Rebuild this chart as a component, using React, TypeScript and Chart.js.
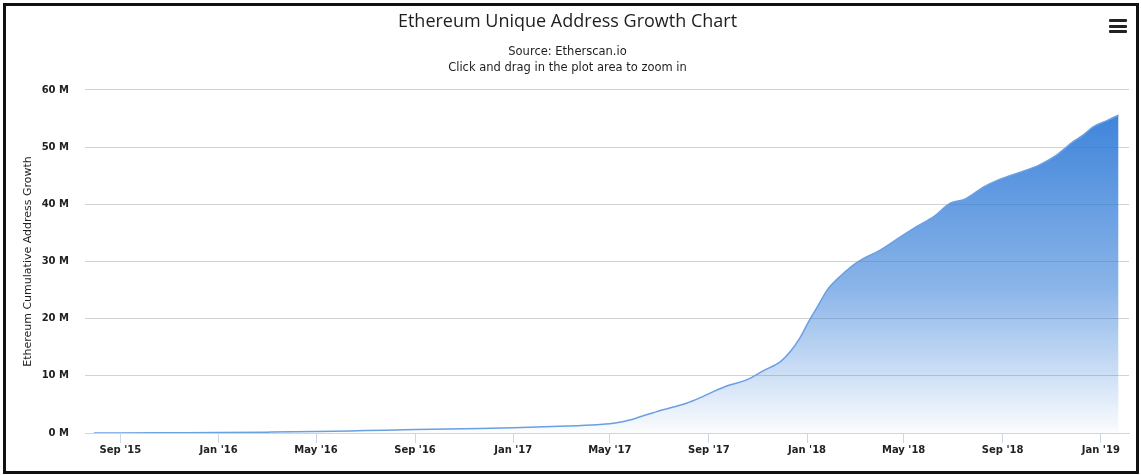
import React, { useEffect, useRef } from 'react';
import { Chart, registerables } from 'chart.js';

Chart.register(...registerables);

// ---- Data (values in millions of unique addresses) ----
const dates: string[] = [
  '2015-07-30', '2015-09-01', '2015-11-01', '2016-01-01', '2016-03-01', '2016-05-01',
  '2016-07-01', '2016-09-01', '2016-11-01', '2017-01-01', '2017-03-09', '2017-04-15',
  '2017-05-01', '2017-05-18', '2017-06-05', '2017-07-02', '2017-08-04', '2017-08-20',
  '2017-09-06', '2017-09-25', '2017-10-18', '2017-11-08', '2017-11-29', '2017-12-11',
  '2017-12-23', '2018-01-03', '2018-01-14', '2018-01-26', '2018-02-12', '2018-03-06',
  '2018-04-02', '2018-04-27', '2018-05-17', '2018-06-07', '2018-06-28', '2018-07-16',
  '2018-08-08', '2018-08-29', '2018-10-01', '2018-10-17', '2018-11-07', '2018-11-28',
  '2018-12-10', '2018-12-23', '2019-01-08', '2019-01-23',
];
const addressesM: number[] = [
  0.0, 0.02, 0.05, 0.08, 0.15, 0.25,
  0.42, 0.6, 0.75, 0.9, 1.22, 1.45,
  1.6, 2.0, 2.7, 3.9, 5.2, 6.1,
  7.2, 8.3, 9.3, 10.9, 12.5, 14.2,
  16.6, 19.5, 22.1, 25.0, 27.5, 30.0,
  32.0, 34.3, 36.1, 37.8, 40.2, 40.9,
  43.0, 44.4, 46.0, 46.9, 48.6, 51.0,
  52.1, 53.6, 54.6, 55.6,
];
const xTickDates: string[] = [
  '2015-09-01', '2016-01-01', '2016-05-01', '2016-09-01', '2017-01-01', '2017-05-01',
  '2017-09-01', '2018-01-01', '2018-05-01', '2018-09-01', '2019-01-01',
];
const monthNames: string[] = ['Jan', 'Feb', 'Mar', 'Apr', 'May', 'Jun', 'Jul', 'Aug', 'Sep', 'Oct', 'Nov', 'Dec'];
const xMinDate = '2015-07-19';
const xMaxDate = '2019-02-05';
const yTicksM: number[] = [0, 10, 20, 30, 40, 50, 60];

const titleText = 'Ethereum Unique Address Growth Chart';
const subtitleLines: string[] = ['Source: Etherscan.io', 'Click and drag in the plot area to zoom in'];
const yTitle = 'Ethereum Cumulative Address Growth';

function ts(s: string): number {
  const [y, m, d] = s.split('-').map(Number);
  return Date.UTC(y, m - 1, d);
}

export default function App() {
  const ref = useRef<HTMLCanvasElement | null>(null);

  useEffect(() => {
    if (!ref.current) return;
    const points = dates.map((d, i) => ({ x: ts(d), y: addressesM[i] }));
    const chart = new Chart(ref.current, {
      type: 'line',
      data: {
        datasets: [
          {
            label: 'Unique Addresses',
            data: points,
            borderColor: '#6a9fe2',
            borderWidth: 1.5,
            pointRadius: 0,
            pointHoverRadius: 0,
            cubicInterpolationMode: 'monotone',
            fill: 'origin',
            backgroundColor: (ctx: any) => {
              const ca = ctx.chart.chartArea;
              if (!ca) return 'rgba(44,120,215,0.5)';
              const g = ctx.chart.ctx.createLinearGradient(0, ca.top, 0, ca.bottom);
              g.addColorStop(0, 'rgba(44,120,215,0.96)');
              g.addColorStop(0.58, 'rgba(44,120,215,0.55)');
              g.addColorStop(1, 'rgba(44,120,215,0.02)');
              return g;
            },
          },
        ],
      },
      options: {
        animation: false,
        responsive: true,
        maintainAspectRatio: false,
        layout: { padding: { left: 0, right: 7, top: 0, bottom: 0 } },
        plugins: {
          legend: { display: false },
          tooltip: { enabled: false },
          title: {
            display: true,
            text: titleText,
            color: '#1e1e1e',
            font: { family: '"Open Sans", "DejaVu Sans", sans-serif', size: 18, weight: 'normal', lineHeight: 1.2 },
            padding: { top: 5, bottom: 0 },
          },
          subtitle: {
            display: true,
            text: subtitleLines,
            color: '#1e1e1e',
            font: { family: '"DejaVu Sans", sans-serif', size: 11.5, weight: 'normal', lineHeight: 1.39 },
            padding: { top: 11.4, bottom: 14 },
          },
        },
        scales: {
          x: {
            type: 'linear',
            min: ts(xMinDate),
            max: ts(xMaxDate),
            afterBuildTicks: (scale: any) => {
              scale.ticks = xTickDates.map((d) => ({ value: ts(d) }));
            },
            afterFit: (scale: any) => {
              scale.height = 38;
            },
            grid: {
              drawOnChartArea: false,
              drawTicks: true,
              tickLength: 10,
              color: '#ccd6eb',
            },
            border: { display: true, color: '#ccd6eb', width: 1 },
            ticks: {
              autoSkip: false,
              maxRotation: 0,
              padding: 1,
              color: '#222222',
              font: { family: '"DejaVu Sans", sans-serif', size: 10, weight: 'bold' },
              callback: (v: any) => {
                const dt = new Date(Number(v));
                return monthNames[dt.getUTCMonth()] + " '" + String(dt.getUTCFullYear()).slice(2);
              },
            },
          },
          y: {
            min: 0,
            max: 60,
            afterBuildTicks: (scale: any) => {
              scale.ticks = yTicksM.map((v) => ({ value: v }));
            },
            afterFit: (scale: any) => {
              scale.width = 79;
            },
            grid: { color: '#d3d3d3', drawTicks: false, lineWidth: 1 },
            border: { display: false },
            ticks: {
              padding: 16,
              color: '#222222',
              font: { family: '"DejaVu Sans", sans-serif', size: 10, weight: 'bold' },
              callback: (v: any) => v + ' M',
            },
            title: {
              display: true,
              text: yTitle,
              color: '#1e1e1e',
              font: { family: '"DejaVu Sans", sans-serif', size: 11, weight: 'normal', lineHeight: 1.2 },
              padding: { top: 15.4, bottom: 0 },
            },
          },
        },
      },
    } as any);
    return () => chart.destroy();
  }, []);

  return (
    <div
      style={{
        position: 'absolute',
        left: 3,
        top: 3,
        width: 1136,
        height: 471,
        boxSizing: 'border-box',
        border: '3px solid #111',
        background: '#ffffff',
      }}
    >
      <div style={{ position: 'relative', width: '100%', height: '100%' }}>
        <canvas ref={ref} />
      </div>
      <div
        style={{
          position: 'absolute',
          left: 1109 - 6,
          top: 19 - 6,
          width: 18,
          height: 14,
          display: 'flex',
          flexDirection: 'column',
          justifyContent: 'space-between',
        }}
      >
        <div style={{ height: 3, background: '#222', borderRadius: 1 }} />
        <div style={{ height: 3, background: '#222', borderRadius: 1 }} />
        <div style={{ height: 3, background: '#222', borderRadius: 1 }} />
      </div>
    </div>
  );
}
